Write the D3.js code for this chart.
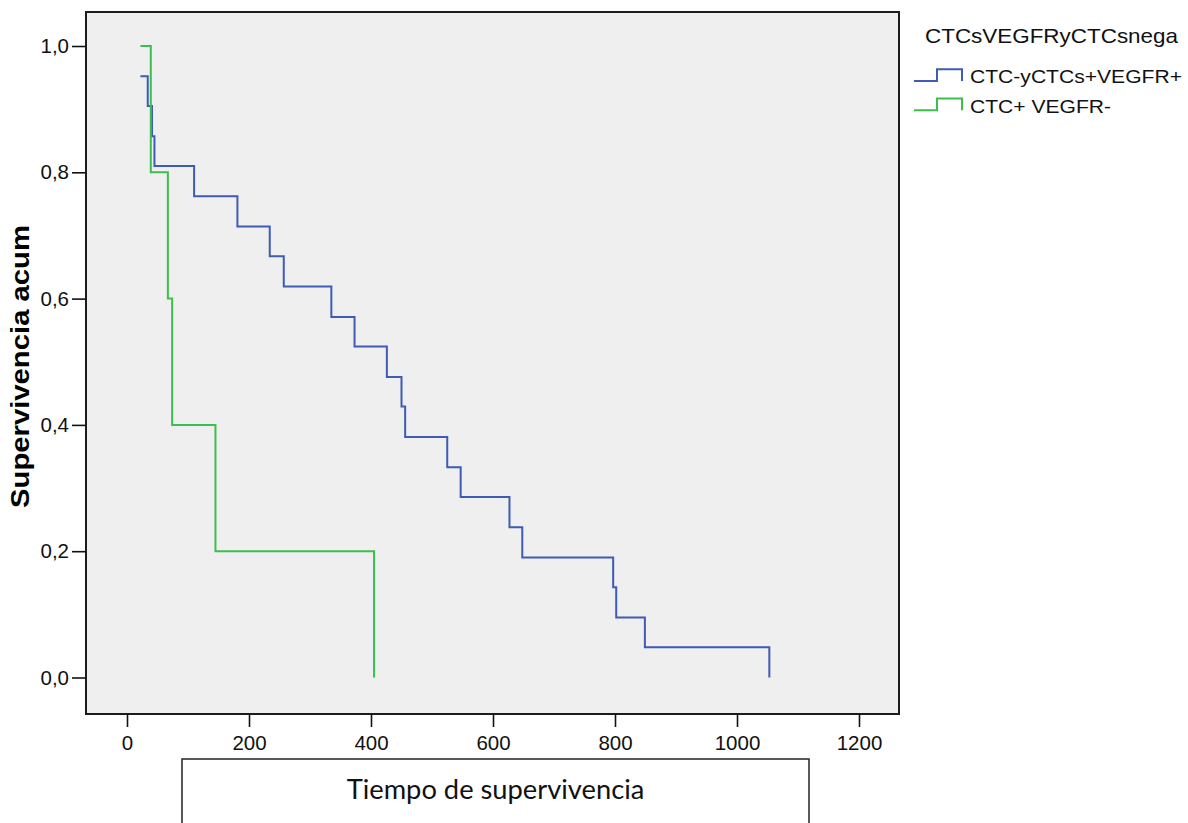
<!DOCTYPE html>
<html>
<head>
<meta charset="utf-8">
<script src="https://cdn.jsdelivr.net/npm/d3@7"></script>
<style>
  html, body { margin: 0; padding: 0; background: #fff; }
  svg { display: block; }
</style>
</head>
<body>
<div id="chart"></div>
<script>
// Kaplan-Meier steps
const blueTimes = [22, 34, 41, 45, 110, 181, 234, 257, 335, 373, 426, 450, 456, 525, 547, 627, 648, 797, 802, 849, 1053];
const blueSurv  = [0.952, 0.905, 0.857, 0.810, 0.762, 0.714, 0.667, 0.619, 0.571, 0.524, 0.476, 0.429, 0.381, 0.333, 0.286, 0.238, 0.190, 0.143, 0.095, 0.048, 0.0];
const greenTimes = [22, 39, 67, 74, 145, 405];
const greenSurv  = [1.0, 0.8, 0.6, 0.4, 0.2, 0.0];

const seriesNames = ['CTC-yCTCs+VEGFR+', 'CTC+ VEGFR-'];
const seriesColors = ['#3e5bb5', '#3cbf4c'];
const xTicks = [0, 200, 400, 600, 800, 1000, 1200];
const yTicks = [0, 0.2, 0.4, 0.6, 0.8, 1.0];

const W = 1188, H = 823;
const frame = {left: 86, top: 12, right: 899, bottom: 714};
const font = 'Arial, "Liberation Sans", sans-serif';

const svg = d3.select('#chart').append('svg').attr('width', W).attr('height', H);

const x = d3.scaleLinear().domain([0, 1200]).range([127, 859]);
const y = d3.scaleLinear().domain([0, 1]).range([677.5, 46]);

// plot background + frame
svg.append('rect')
  .attr('x', frame.left).attr('y', frame.top)
  .attr('width', frame.right - frame.left).attr('height', frame.bottom - frame.top)
  .attr('fill', '#efefef').attr('stroke', '#1c1c1c').attr('stroke-width', 2);

// axes
const xAxis = svg.append('g')
  .attr('transform', `translate(0,${frame.bottom})`)
  .call(d3.axisBottom(x).tickValues(xTicks).tickSize(13).tickPadding(8).tickFormat(d3.format('d')));
const yAxis = svg.append('g')
  .attr('transform', `translate(${frame.left},0)`)
  .call(d3.axisLeft(y).tickValues(yTicks).tickSize(14).tickPadding(3).tickFormat(d => d.toFixed(1).replace('.', ',')));
[xAxis, yAxis].forEach(g => {
  g.select('.domain').remove();
  g.selectAll('.tick line').attr('stroke', '#111').attr('stroke-width', 1.6);
  g.selectAll('.tick text').attr('fill', '#111').style('font-family', font).style('font-size', '20.5px');
});

// curves
const line = d3.line().x(d => x(d[0])).y(d => y(d[1])).curve(d3.curveStepAfter);
[d3.zip(blueTimes, blueSurv), d3.zip(greenTimes, greenSurv)].forEach((pts, i) => {
  svg.append('path')
    .attr('d', line(pts))
    .attr('fill', 'none')
    .attr('stroke', seriesColors[i])
    .attr('stroke-width', 2);
});

// y title
svg.append('text')
  .attr('transform', 'translate(29,366.5) rotate(-90)')
  .attr('text-anchor', 'middle')
  .attr('textLength', 283).attr('lengthAdjust', 'spacingAndGlyphs')
  .style('font-family', font).style('font-weight', 'bold').style('font-size', '25px')
  .attr('fill', '#000')
  .text('Supervivencia acum');

// x title box
svg.append('rect')
  .attr('x', 182).attr('y', 759).attr('width', 627).attr('height', 80)
  .attr('fill', '#fff').attr('stroke', '#222').attr('stroke-width', 1.5);
svg.append('text')
  .attr('x', 495.5).attr('y', 799)
  .attr('text-anchor', 'middle')
  .style('font-family', 'Lato, "Open Sans", sans-serif').style('font-size', '27.3px')
  .attr('fill', '#111')
  .text('Tiempo de supervivencia');

// legend
svg.append('text')
  .attr('x', 925).attr('y', 43)
  .attr('textLength', 253).attr('lengthAdjust', 'spacingAndGlyphs')
  .style('font-family', font).style('font-size', '21px')
  .attr('fill', '#111')
  .text('CTCsVEGFRyCTCsnega');

const legWidths = [212, 141];
const leg = svg.append('g').selectAll('g').data(seriesNames).join('g')
  .attr('transform', (d, i) => `translate(0,${i * 29.3})`);
leg.append('path')
  .attr('d', 'M914,81H937V69.3H962V81')
  .attr('fill', 'none')
  .attr('stroke', (d, i) => seriesColors[i])
  .attr('stroke-width', 2);
leg.append('text')
  .attr('x', 970).attr('y', 83.3)
  .attr('textLength', (d, i) => legWidths[i]).attr('lengthAdjust', 'spacingAndGlyphs')
  .style('font-family', font).style('font-size', '18.5px')
  .attr('fill', '#111')
  .text(d => d);
</script>
</body>
</html>
